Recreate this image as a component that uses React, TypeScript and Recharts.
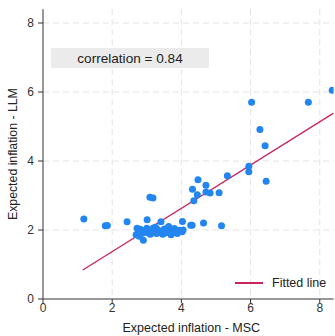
import React from "react";
import { ScatterChart, Scatter, XAxis, YAxis, CartesianGrid, Label } from "recharts";

const msc: number[] = [
  6.03, 7.67, 8.36, 6.27, 6.42, 5.95, 5.95, 6.45, 5.33, 4.48, 4.32, 4.71, 4.46, 4.71, 4.83, 5.09, 4.36,
  1.18, 1.8, 1.86, 2.43, 3.01, 3.09, 3.18, 3.41, 4.03, 4.27, 4.31, 4.64, 5.16,
  2.69, 2.76, 2.81, 2.9, 2.98, 3.07, 3.15, 3.22, 3.3, 3.38, 3.46, 3.51, 3.63, 3.67, 3.75, 3.8, 3.84, 3.94,
  4.02, 4.05, 2.9, 3.19, 2.72, 2.85, 3.0, 3.1, 3.25, 3.35, 3.55, 3.7, 3.88, 2.78, 3.02, 3.14, 3.28,
];
const llm: number[] = [
  5.7, 5.7, 6.05, 4.91, 4.44, 3.85, 3.69, 3.41, 3.57, 3.46, 3.18, 3.3, 3.02, 3.1, 3.07, 3.08, 2.85,
  2.32, 2.12, 2.13, 2.24, 2.3, 2.95, 2.93, 2.24, 2.25, 2.14, 2.14, 2.2, 2.12,
  1.86, 1.93, 2.02, 1.98, 1.93, 1.97, 1.92, 1.94, 2.02, 1.93, 1.88, 2.03, 2.1, 1.94, 2.0, 2.04, 1.95, 1.99,
  1.95, 2.0, 1.7, 2.06, 2.05, 1.9, 2.05, 1.88, 2.08, 1.98, 1.92, 1.86, 1.9, 1.82, 1.99, 2.0, 1.9,
];
const fitX: number[] = [1.15, 8.4];
const fitIntercept = 0.12;
const fitSlope = 0.627;
const axisTicks: number[] = [0, 2, 4, 6, 8];
const correlationText = "correlation = 0.84";
const legendText = "Fitted line";
const xTitle = "Expected inflation - MSC";
const yTitle = "Expected inflation - LLM";

const points = msc.map((x, i) => ({ x, y: llm[i] }));
const fitted = fitX.map((x) => ({ x, y: fitIntercept + fitSlope * x }));

const FONT = "'Liberation Sans', Arial, sans-serif";
const DOT = "#2285f0";
const LINE = "#c9245c";

const Dot = (props: any) => <circle cx={props.cx} cy={props.cy} r={3.5} fill={DOT} />;

export default function App() {
  return (
    <div style={{ position: "absolute", left: 0, top: 0, width: 335, height: 336, background: "#fff", fontFamily: FONT }}>
      <ScatterChart width={335} height={336} margin={{ top: 9.2, right: 1.4, bottom: 0, left: 0 }}>
        <CartesianGrid stroke="#e3e3e3" strokeDasharray="6 4" horizontalValues={[2, 4, 6, 8]} verticalValues={[2, 4, 6, 8]} />
        <XAxis
          type="number"
          dataKey="x"
          domain={[0, 8.4]}
          ticks={axisTicks}
          allowDataOverflow
          height={37}
          tickSize={4}
          tickMargin={0}
          stroke="#333"
          tick={{ fill: "#333", fontSize: 12, fontFamily: FONT }}
        >
          <Label
            content={(p: any) => {
              const vb = p.viewBox;
              return (
                <text x={vb.x + vb.width / 2 + 3} y={332} textAnchor="middle" fontSize={12.5} fill="#222" fontFamily={FONT}>
                  {xTitle}
                </text>
              );
            }}
          />
        </XAxis>
        <YAxis
          type="number"
          dataKey="y"
          domain={[0, 8.4]}
          ticks={axisTicks}
          allowDataOverflow
          width={43}
          tickSize={5}
          tickMargin={4}
          stroke="#333"
          tick={{ fill: "#333", fontSize: 12, fontFamily: FONT }}
        >
          <Label
            content={(p: any) => {
              const vb = p.viewBox;
              const cy = vb.y + vb.height / 2;
              return (
                <text
                  x={13}
                  y={cy}
                  transform={`rotate(-90 13 ${cy})`}
                  textAnchor="middle"
                  dominantBaseline="central"
                  fontSize={12.3}
                  fill="#222"
                  fontFamily={FONT}
                >
                  {yTitle}
                </text>
              );
            }}
          />
        </YAxis>
        <Scatter data={fitted} line={{ stroke: LINE, strokeWidth: 1.3 }} shape={() => null} isAnimationActive={false} />
        <Scatter data={points} shape={Dot} isAnimationActive={false} />
      </ScatterChart>
      <div
        style={{
          position: "absolute",
          left: 51,
          top: 48,
          width: 158,
          height: 20,
          background: "#ebebeb",
          fontSize: 13.6,
          color: "#222",
          display: "flex",
          alignItems: "center",
          justifyContent: "center",
        }}
      >
        {correlationText}
      </div>
      <div style={{ position: "absolute", left: 235, top: 275, height: 16, display: "flex", alignItems: "center", fontSize: 12.5, color: "#222" }}>
        <div style={{ width: 28, height: 1.3, background: LINE, marginRight: 9 }} />
        <span>{legendText}</span>
      </div>
    </div>
  );
}
